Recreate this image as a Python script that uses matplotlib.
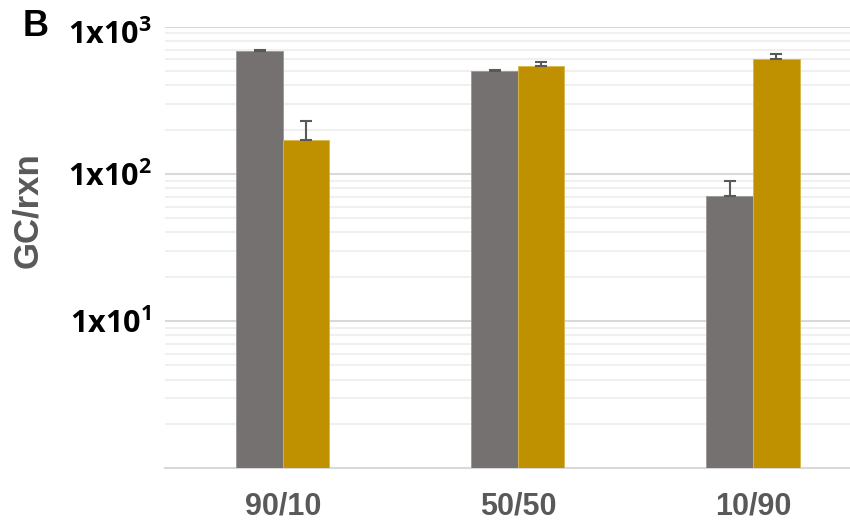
import numpy as np
import matplotlib
matplotlib.use("Agg")
import matplotlib.pyplot as plt
from matplotlib.ticker import FixedLocator, NullFormatter, LogLocator
from matplotlib.transforms import ScaledTranslation

# Data
categories = ["90/10", "50/50", "10/90"]
gray_values = [684, 503, 70.3]
gray_err = [16, 8, 19]
gold_values = [169, 541, 607]
gold_err = [58, 39, 46]
ytick_values = [10, 100, 1000]
ytick_labels = [r"$\mathbf{1x10^{1}}$", r"$\mathbf{1x10^{2}}$", r"$\mathbf{1x10^{3}}$"]

plt.rcParams["mathtext.fontset"] = "custom"
plt.rcParams["mathtext.bf"] = "Open Sans:bold"
plt.rcParams["mathtext.rm"] = "Open Sans"
plt.rcParams["font.family"] = ["Liberation Sans", "DejaVu Sans"]

fig = plt.figure(figsize=(8.5, 5.28), dpi=100)
W, H = 850, 528
ax = fig.add_axes([165.3 / W, (H - 468.3) / H, 1 - 165.3 / W, (468.3 - 26.7) / H])

x = np.arange(len(categories))
bw = 0.198
gray_c = "#767171"
gold_c = "#BF9000"
err_c = "#595959"

ax.bar(x - bw / 2, gray_values, width=bw, color=gray_c, edgecolor="#9a9696",
       linewidth=0.6, zorder=3)
ax.bar(x + bw / 2, gold_values, width=bw, color=gold_c, edgecolor="#d8b648",
       linewidth=0.6, zorder=3)

ekw = dict(fmt="none", ecolor=err_c, elinewidth=1.5, capsize=4.3, capthick=1.5, zorder=4)
ax.errorbar(x - bw / 2, gray_values, yerr=[np.zeros(3), gray_err], **ekw)
ax.errorbar(x + bw / 2, gold_values, yerr=[np.zeros(3), gold_err], **ekw)

ax.set_yscale("log")
ax.set_ylim(1, 1000)
ax.set_xlim(-0.5, 2 + (850 - 753) / 235)

ax.yaxis.set_major_locator(FixedLocator(ytick_values))
ax.set_yticklabels(ytick_labels)
ax.yaxis.set_minor_locator(LogLocator(base=10, subs=np.arange(2, 10)))
ax.yaxis.set_minor_formatter(NullFormatter())
ax.grid(True, which="major", axis="y", color="#d9d9d9", linewidth=1.5, zorder=0)
ax.grid(True, which="minor", axis="y", color="#f0f0f0", linewidth=1.5, zorder=0)
ax.set_axisbelow(True)

for side in ["left", "right", "top"]:
    ax.spines[side].set_visible(False)
ax.spines["bottom"].set_color("#d9d9d9")
ax.spines["bottom"].set_linewidth(1.5)

ax.tick_params(axis="y", which="both", length=0, pad=10, labelsize=22, labelcolor="black")
ax.tick_params(axis="x", length=0, pad=17, labelsize=22, labelcolor=err_c)
ax.set_xticks(x)
ax.set_xticklabels(categories, fontweight="bold")

# nudge the top tick label down so it stays inside the figure
for lab in ax.get_yticklabels():
    if "^{3}" in lab.get_text():
        lab.set_transform(lab.get_transform() + ScaledTranslation(0, -4 / 72, fig.dpi_scale_trans))

ax.set_ylabel("GC/rxn", fontsize=25, fontweight="bold", color=err_c)
ax.yaxis.set_label_coords((44.5 - 165.3) / (W - 165.3), (468.3 - 210) / (468.3 - 26.7))

fig.text(22.7 / W, 1 - 36 / H, "B", fontsize=26, fontweight="bold", color="black",
         ha="left", va="baseline")

fig.savefig("out.png", dpi=100)
